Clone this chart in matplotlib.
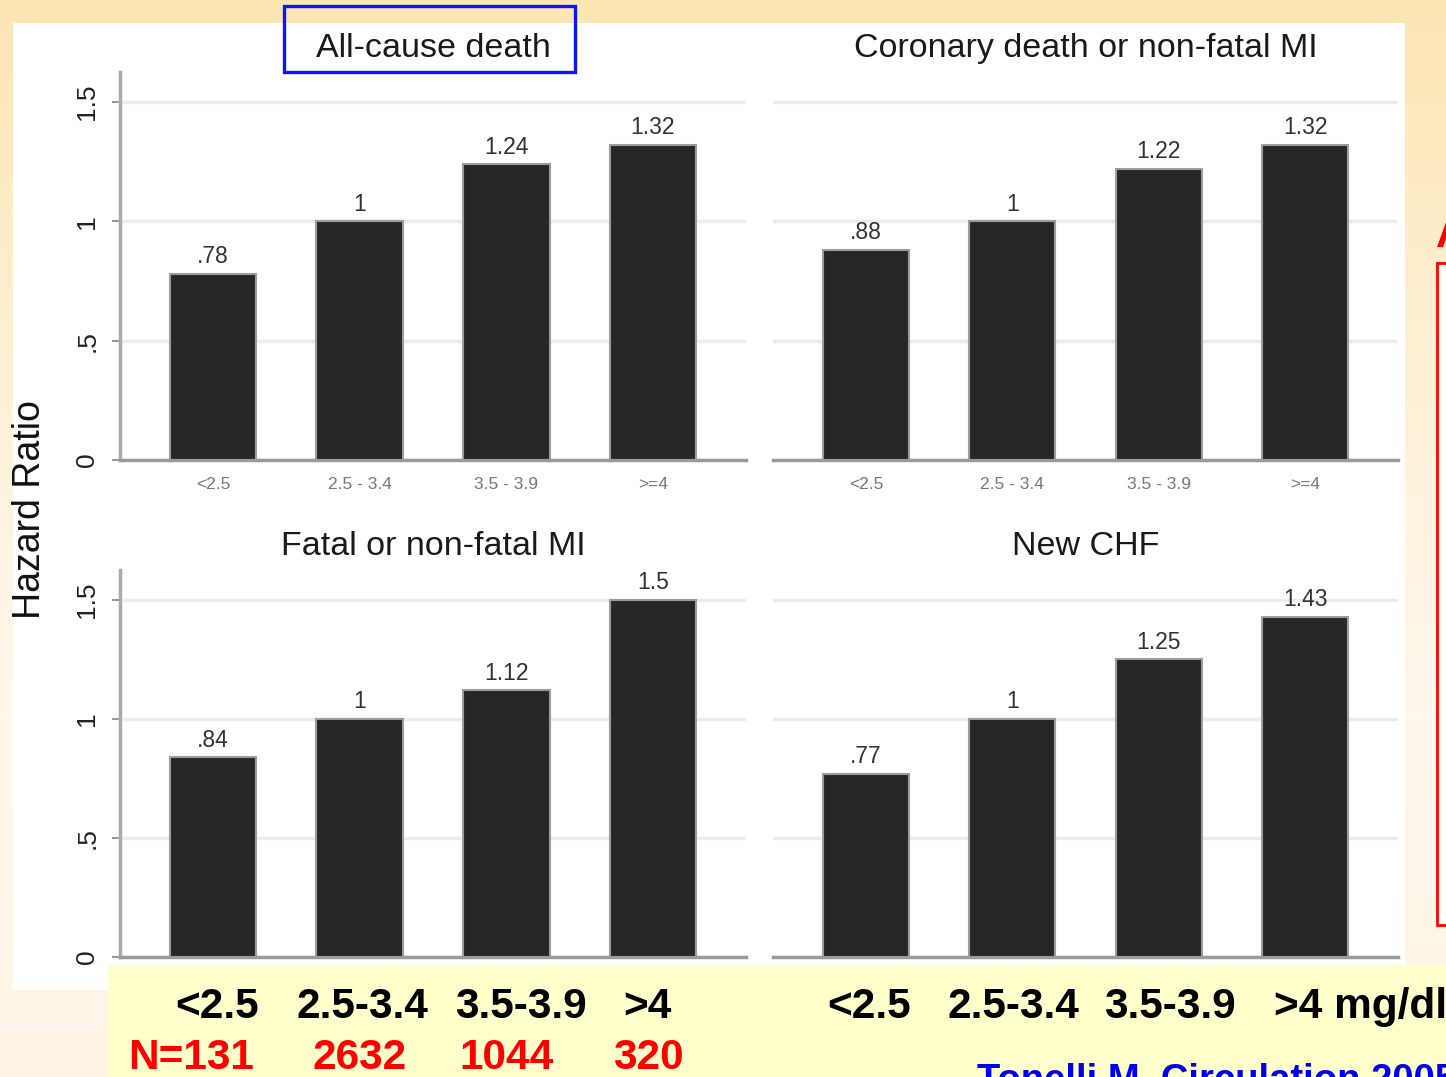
import numpy as np
import matplotlib.pyplot as plt
from matplotlib.patches import Rectangle
from matplotlib.colors import LinearSegmentedColormap
import matplotlib.transforms as mtrans

W, H = 1446, 1077

# data
categories = ['<2.5', '2.5 - 3.4', '3.5 - 3.9', '>=4']
all_cause = [0.78, 1, 1.24, 1.32]
coronary = [0.88, 1, 1.22, 1.32]
fatal_mi = [0.84, 1, 1.12, 1.5]
new_chf = [0.77, 1, 1.25, 1.43]
titles = ['All-cause death', 'Coronary death or non-fatal MI',
          'Fatal or non-fatal MI', 'New CHF']
yticks = [0, 0.5, 1, 1.5]
ytick_labels = ['0', '.5', '1', '1.5']
big_left = ['<2.5', '2.5-3.4', '3.5-3.9', '>4']
big_right = ['<2.5', '2.5-3.4', '3.5-3.9', '>4 mg/dl']
n_counts = ['N=131', '2632', '1044', '320']

plt.rcParams['font.family'] = ['Liberation Sans', 'DejaVu Sans']


def fx(px):
    return px / W


def fy(py):
    return 1 - py / H


def hr_label(v):
    s = f"{v:g}"
    return s[1:] if s.startswith('0') else s


fig = plt.figure(figsize=(W / 100, H / 100), dpi=100)

# slide background gradient
bg = fig.add_axes([0, 0, 1, 1], zorder=-10)
cmap = LinearSegmentedColormap.from_list('bg', ['#fde6b4', '#fdf0d4', '#fff8ee', '#fef4e6'])
bg.imshow(np.linspace(0, 1, 256)[:, None], aspect='auto', cmap=cmap, extent=[0, 1, 0, 1])
bg.axis('off')

# white chart area and yellow label box
fig.add_artist(Rectangle((fx(13), fy(990)), fx(1405) - fx(13), fy(23) - fy(990),
                         transform=fig.transFigure, facecolor='white', edgecolor='none', zorder=-5))
fig.add_artist(Rectangle((fx(108), 0), 1 - fx(108), fy(965),
                         transform=fig.transFigure, facecolor='#ffffcc', edgecolor='none', zorder=-4))

panels = [
    (all_cause, [fx(120), fy(460), fx(746) - fx(120), fy(72) - fy(460)], True, True),
    (coronary, [fx(773), fy(460), fx(1398) - fx(773), fy(72) - fy(460)], False, True),
    (fatal_mi, [fx(120), fy(957), fx(746) - fx(120), fy(570) - fy(957)], True, False),
    (new_chf, [fx(773), fy(957), fx(1398) - fx(773), fy(570) - fy(957)], False, False),
]

axes = []
x = np.arange(len(categories))
for (vals, rect, left, top), title in zip(panels, titles):
    ax = fig.add_axes(rect)
    ax.set_facecolor('none')
    ax.bar(x, vals, width=0.59, color='#272727', edgecolor='#9c9c9c', linewidth=1.5, zorder=3)
    for xi, v in zip(x, vals):
        ax.annotate(hr_label(v), (xi, v), xytext=(0, 4), textcoords='offset points',
                    ha='center', va='bottom', fontsize=16.5, color='#333333')
    ax.set_xlim(-0.635, 3.635)
    ax.set_ylim(0, 1.626)
    ax.set_yticks(yticks)
    ax.yaxis.grid(True, color='#ececec', linewidth=2.5)
    ax.set_axisbelow(True)
    for s in ['top', 'right']:
        ax.spines[s].set_visible(False)
    ax.spines['bottom'].set_color('#9a9a9a')
    ax.spines['bottom'].set_linewidth(2.5)
    if left:
        ax.spines['left'].set_color('#aaaaaa')
        ax.spines['left'].set_linewidth(2.5)
        ax.set_yticklabels(ytick_labels, rotation=90, va='center')
        ax.tick_params(axis='y', length=6, width=1.5, color='#999999', labelsize=19,
                       labelcolor='#222222', pad=9)
    else:
        ax.spines['left'].set_visible(False)
        ax.tick_params(axis='y', left=False, labelleft=False)
    ax.set_xticks(x)
    if top:
        ax.set_xticklabels(categories)
        ax.tick_params(axis='x', length=0, pad=12, labelsize=12.5, labelcolor='#777777')
    else:
        ax.tick_params(axis='x', length=0, labelbottom=False)
    ax.set_title(title, fontsize=24.5, pad=11, color='#1a1a1a')
    axes.append(ax)

# blue box round the first title
fig.add_artist(Rectangle((fx(284), fy(72)), fx(575) - fx(284), fy(6) - fy(72),
                         transform=fig.transFigure, facecolor='none', edgecolor='#0a14ff',
                         linewidth=2.4, zorder=6))

fig.text(fx(30), fy(510), 'Hazard Ratio', rotation=90, ha='center', va='center',
         fontsize=27, color='#111111')

# big category labels under the charts
tl = mtrans.blended_transform_factory(axes[2].transData, fig.transFigure)
tr = mtrans.blended_transform_factory(axes[3].transData, fig.transFigure)
left_nudge = [0.03, 0.02, 0.1, -0.04]
for xi, lab, dx in zip(x, big_left, left_nudge):
    fig.text(xi + dx, fy(1007), lab, transform=tl, ha='center', va='center',
             fontsize=30.5, fontweight='bold', color='black')
n_nudge = [-0.15, 0.0, 0.0, -0.03]
for xi, lab, dx in zip(x, n_counts, n_nudge):
    fig.text(xi + dx, fy(1058), lab, transform=tl, ha='center', va='center',
             fontsize=30.5, fontweight='bold', color='#ff0000')
right_nudge = [0.02, 0.01, 0.08]
for xi, lab, dx in zip(x[:3], big_right[:3], right_nudge):
    fig.text(xi + dx, fy(1007), lab, transform=tr, ha='center', va='center',
             fontsize=30.5, fontweight='bold', color='black')
fig.text(x[3] - 0.21, fy(1007), big_right[3], transform=tr, ha='left', va='center',
         fontsize=30.5, fontweight='bold', color='black')

fig.text(fx(977), fy(1063), 'Tonelli M, Circulation 2005', ha='left', va='top',
         fontsize=27.5, fontweight='bold', color='#0000ee')

# red box partly off the slide on the right
fig.text(fx(1436), fy(247), 'A', ha='left', va='baseline', fontsize=30,
         fontweight='bold', color='#ff0000')
fig.add_artist(Rectangle((fx(1437), fy(925)), fx(1480) - fx(1437), fy(263) - fy(925),
                         transform=fig.transFigure, facecolor='#fffcf6', edgecolor='#ff0000',
                         linewidth=2, zorder=-3))

fig.savefig('out.png', dpi=100)
